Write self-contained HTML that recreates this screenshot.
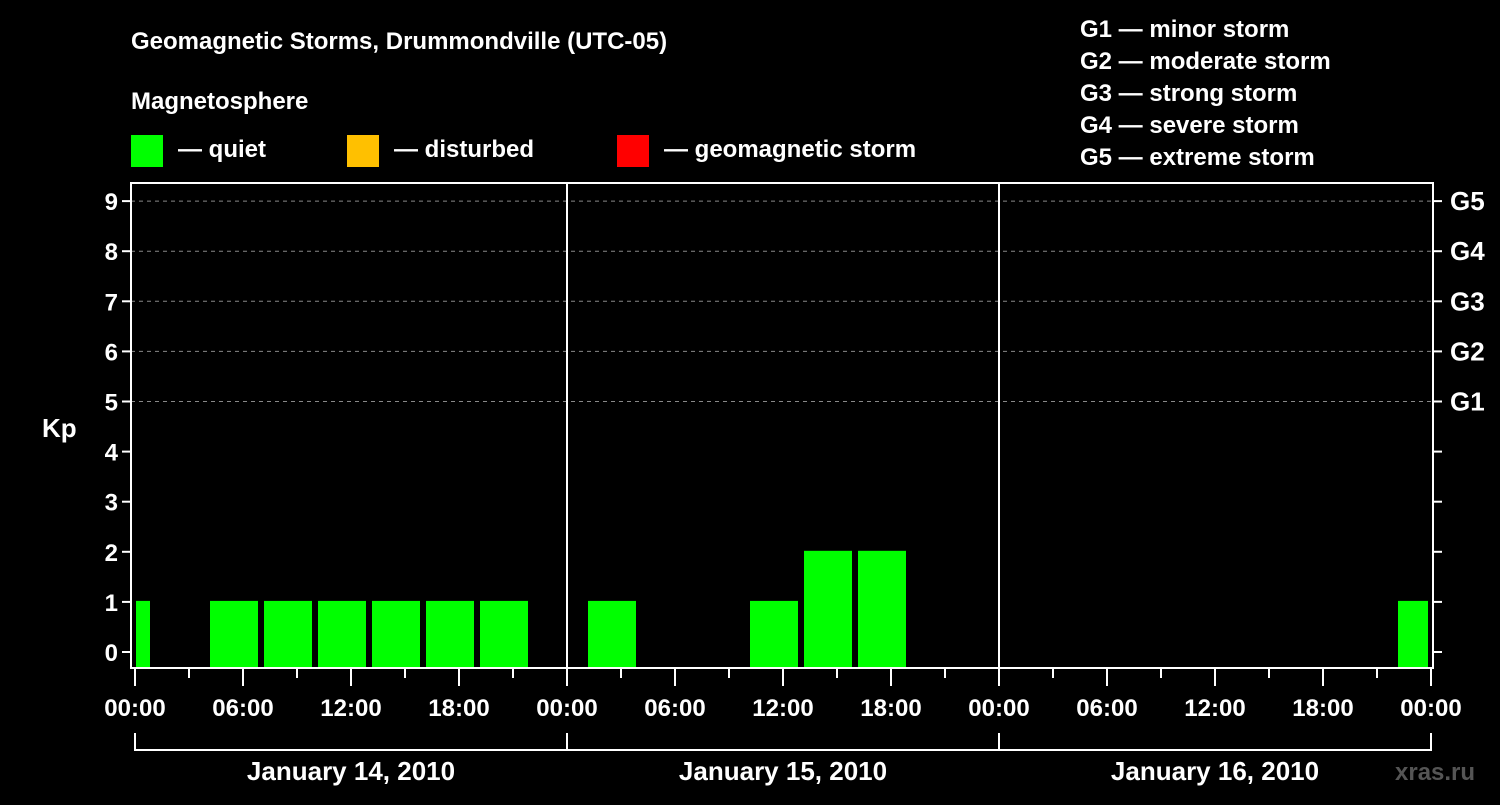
<!DOCTYPE html>
<html><head><meta charset="utf-8"><style>
body{margin:0;background:#000;width:1500px;height:800px;overflow:hidden}
svg text{font-family:"Liberation Sans",Arial,sans-serif;font-weight:bold;fill:#fff}
</style></head><body>
<svg id="c" width="1500" height="800">
<text x="131" y="49" font-size="24">Geomagnetic Storms, Drummondville (UTC-05)</text>
<text x="131" y="109" font-size="24">Magnetosphere</text>
<rect x="131" y="135" width="32" height="32" fill="#00ff00"/>
<text x="178" y="157" font-size="24">— quiet</text>
<rect x="347" y="135" width="32" height="32" fill="#ffc000"/>
<text x="394" y="157" font-size="24">— disturbed</text>
<rect x="617" y="135" width="32" height="32" fill="#ff0000"/>
<text x="664" y="157" font-size="24">— geomagnetic storm</text>
<g font-size="24">
<text x="1080" y="37">G1 — minor storm</text>
<text x="1080" y="69">G2 — moderate storm</text>
<text x="1080" y="101">G3 — strong storm</text>
<text x="1080" y="133">G4 — severe storm</text>
<text x="1080" y="165">G5 — extreme storm</text>
</g>
<text x="42" y="437" font-size="26">Kp</text>
<text x="1395" y="780" font-size="24" fill="#555" style="fill:#555">xras.ru</text>
<g id="plot"></g>
</svg>
<script>
const kpValues=[1,0,1,1,1,1,1,1,0,1,0,0,1,2,2,0,0,0,0,0,0,0,0,0,1];
const slotStartHour=-2;
const dayLabels=["January 14, 2010","January 15, 2010","January 16, 2010"];
const yTicks=[0,1,2,3,4,5,6,7,8,9];
const gLabels=["G1","G2","G3","G4","G5"];
const hourLabels=["00:00","06:00","12:00","18:00"];
const NS="http://www.w3.org/2000/svg";
const L=131,R=1433,T=183,B=668,X0=135,PXH=18;
const x=h=>X0+h*PXH;
const y=v=>652-v*50.1;
const g=document.getElementById('plot');
function mk(t,a,p){const e=document.createElementNS(NS,t);for(const k in a)e.setAttribute(k,a[k]);(p||g).appendChild(e);return e;}
// grid
for(let i=0;i<gLabels.length;i++){
const v=5+i;
const ln=mk('line',{x1:L,x2:R,y1:y(v),y2:y(v),stroke:'#888','stroke-dasharray':'4,4','stroke-width':1});


const t=mk('text',{x:1450,y:y(v)+9,'font-size':26});t.textContent=gLabels[i];


}
// bars
kpValues.forEach((v,k)=>{
if(v<=0)return;
let s=slotStartHour+3*k,e=s+3;
let x1=Math.max(x(s)+3,L+5),x2=Math.min(x(e)-3,R-5);
const r=mk('rect',{x:x1,y:y(v)-1,width:x2-x1,height:B-(y(v)-1),fill:v>=5?'#ff0000':(v>=4?'#ffc000':'#00ff00')});


});
// frame
const fr=mk('rect',{x:L,y:T,width:R-L,height:B-T,fill:'none',stroke:'#fff','stroke-width':2});


// y ticks
yTicks.forEach(v=>{
mk('line',{x1:122,x2:L,y1:y(v),y2:y(v),stroke:'#fff','stroke-width':2});
mk('line',{x1:R,x2:1442,y1:y(v),y2:y(v),stroke:'#fff','stroke-width':2});
const t=mk('text',{x:118,y:y(v)+9,'font-size':24,'text-anchor':'end'});t.textContent=v;


});
// days
dayLabels.forEach((d,i)=>{
const xs=x(24*i),xe=x(24*(i+1));
if(i>0)mk('line',{x1:xs,x2:xs,y1:T,y2:B,stroke:'#fff','stroke-width':2});
mk('line',{x1:xs,x2:xe,y1:750,y2:750,stroke:'#fff','stroke-width':2});
mk('line',{x1:xs,x2:xs,y1:733,y2:751,stroke:'#fff','stroke-width':2});
mk('line',{x1:xe,x2:xe,y1:733,y2:751,stroke:'#fff','stroke-width':2});
const t=mk('text',{x:(xs+xe)/2,y:780,'font-size':26,'text-anchor':'middle'});t.textContent=d;


for(let h=0;h<24;h+=3){
const long=h%6===0;
mk('line',{x1:x(24*i+h),x2:x(24*i+h),y1:B,y2:long?686:678,stroke:'#fff','stroke-width':2});
if(long){const tt=mk('text',{x:x(24*i+h),y:716,'font-size':24,'text-anchor':'middle'});tt.textContent=hourLabels[h/6];

}
}
});
mk('line',{x1:x(72),x2:x(72),y1:B,y2:686,stroke:'#fff','stroke-width':2});
const te=mk('text',{x:x(72),y:716,'font-size':24,'text-anchor':'middle'});te.textContent="00:00";


</script>
</body></html>
